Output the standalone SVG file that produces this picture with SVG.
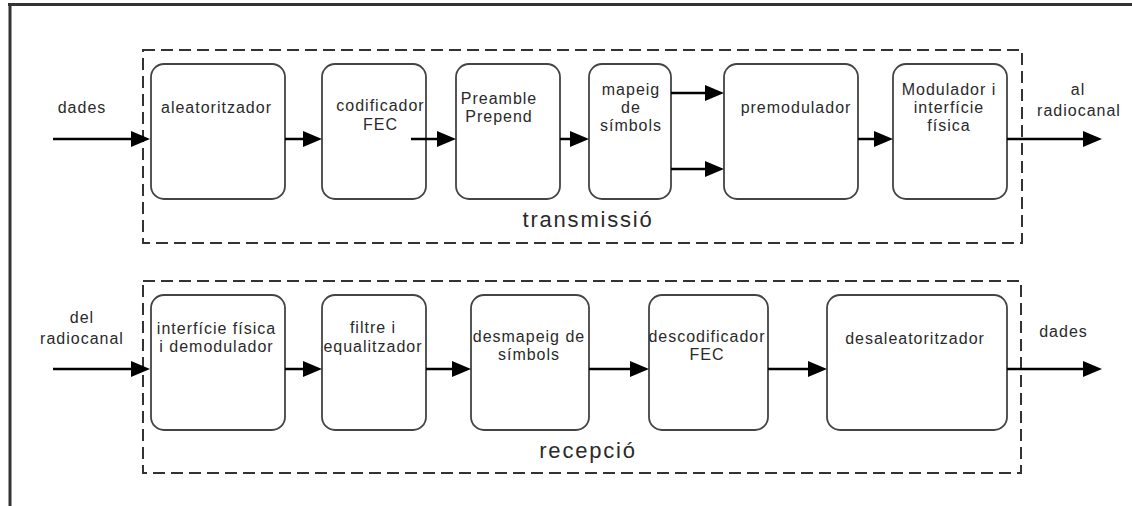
<svg xmlns="http://www.w3.org/2000/svg" width="1132" height="506" viewBox="0 0 1132 506">
  <style>
    .frame { fill: none; stroke: #333; stroke-width: 3; }
    .stage { fill: none; stroke: #333; stroke-width: 2; stroke-dasharray: 12 6; }
    .block { fill: #fff; stroke: #444; stroke-width: 1.8; }
    .lbl { font-family: "Liberation Sans", Arial, sans-serif; font-size: 16px; letter-spacing: 1px; fill: #2a2a2a; text-anchor: middle; }
    .title { font-family: "Liberation Sans", Arial, sans-serif; font-size: 22px; letter-spacing: 1.8px; fill: #2a2a2a; text-anchor: middle; }
    .wire { fill: none; stroke: #000; stroke-width: 2.5; marker-end: url(#head); }
  </style>
  <defs>
    <marker id="head" markerUnits="userSpaceOnUse" markerWidth="19" markerHeight="16" refX="9" refY="8" orient="auto">
      <path d="M0,0 L19,8 L0,16 Z" fill="#000"/>
    </marker>
  </defs>

  <rect width="1132" height="506" fill="#fff"/>

  <!-- page frame (top and left edges) -->
  <path class="frame" d="M8,4.5 H1132 M10,4.5 V506"/>

  <!-- chain enclosures -->
  <g id="transmissio">
    <rect class="stage" x="143" y="50" width="879" height="193"/>
    <text class="title" x="588" y="227">transmissió</text>
  </g>
  <g id="recepcio">
    <rect class="stage" x="143" y="281" width="878" height="192"/>
    <text class="title" x="588" y="458">recepció</text>
  </g>

  <!-- transmit chain -->
  <g id="aleatoritzador">
    <rect class="block" x="151" y="64" width="134" height="135" rx="13"/>
    <text class="lbl" x="216.5" y="113">aleatoritzador</text>
  </g>
  <g id="codificador-fec">
    <rect class="block" x="322" y="64" width="104" height="135" rx="13"/>
    <text class="lbl" x="380.5" y="111">codificador</text>
    <text class="lbl" x="380.5" y="130">FEC</text>
  </g>
  <g id="preamble-prepend">
    <rect class="block" x="456" y="64" width="104" height="135" rx="13"/>
    <text class="lbl" x="499" y="103.5">Preamble</text>
    <text class="lbl" x="499" y="122">Prepend</text>
  </g>
  <g id="mapeig-simbols">
    <rect class="block" x="589" y="64" width="82" height="135" rx="13"/>
    <text class="lbl" x="631" y="95">mapeig</text>
    <text class="lbl" x="631" y="113">de</text>
    <text class="lbl" x="631" y="131">símbols</text>
  </g>
  <g id="premodulador">
    <rect class="block" x="724" y="64" width="134" height="135" rx="13"/>
    <text class="lbl" x="796" y="113">premodulador</text>
  </g>
  <g id="modulador">
    <rect class="block" x="893" y="64" width="114" height="135" rx="13"/>
    <text class="lbl" x="949" y="94.5">Modulador i</text>
    <text class="lbl" x="949" y="113">interfície</text>
    <text class="lbl" x="949" y="131">física</text>
  </g>

  <!-- receive chain -->
  <g id="demodulador">
    <rect class="block" x="151" y="295" width="134" height="135" rx="13"/>
    <text class="lbl" x="216.5" y="333.5">interfície física</text>
    <text class="lbl" x="216.5" y="352">i demodulador</text>
  </g>
  <g id="equalitzador">
    <rect class="block" x="322" y="295" width="104" height="135" rx="13"/>
    <text class="lbl" x="373" y="333">filtre i</text>
    <text class="lbl" x="373" y="352">equalitzador</text>
  </g>
  <g id="desmapeig">
    <rect class="block" x="471" y="295" width="118" height="135" rx="13"/>
    <text class="lbl" x="529" y="342">desmapeig de</text>
    <text class="lbl" x="529" y="360">símbols</text>
  </g>
  <g id="descodificador-fec">
    <rect class="block" x="649" y="295" width="119" height="135" rx="13"/>
    <text class="lbl" x="707" y="342">descodificador</text>
    <text class="lbl" x="707" y="360">FEC</text>
  </g>
  <g id="desaleatoritzador">
    <rect class="block" x="827" y="295" width="180" height="135" rx="13"/>
    <text class="lbl" x="915" y="344">desaleatoritzador</text>
  </g>

  <!-- external ports -->
  <g id="port-labels">
    <text class="lbl" x="82" y="113">dades</text>
    <text class="lbl" x="1078" y="95">al</text>
    <text class="lbl" x="1079" y="116">radiocanal</text>
    <text class="lbl" x="82" y="323">del</text>
    <text class="lbl" x="82" y="344">radiocanal</text>
    <text class="lbl" x="1063.5" y="337">dades</text>
  </g>

  <!-- connectors: each line stops 10px short of the arrow tip -->
  <g id="connectors">
    <path class="wire" d="M53,139 H140"/>
    <path class="wire" d="M285,139 H312"/>
    <path class="wire" d="M411,139 H446"/>
    <path class="wire" d="M560,139 H579"/>
    <path class="wire" d="M671,93 H714"/>
    <path class="wire" d="M671,169 H714"/>
    <path class="wire" d="M858,139 H883"/>
    <path class="wire" d="M1007,139 H1092"/>

    <path class="wire" d="M53,369 H140"/>
    <path class="wire" d="M285,369 H312"/>
    <path class="wire" d="M426,369 H461"/>
    <path class="wire" d="M589,369 H639"/>
    <path class="wire" d="M768,369 H817"/>
    <path class="wire" d="M1007,369 H1092"/>
  </g>
</svg>
